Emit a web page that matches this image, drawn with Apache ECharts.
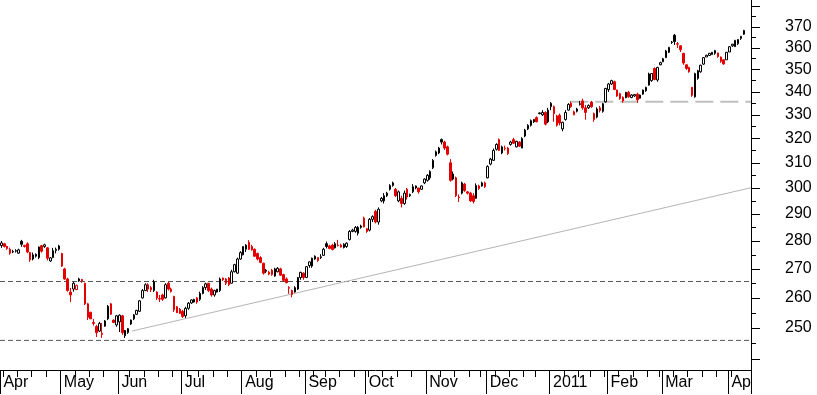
<!DOCTYPE html>
<html><head><meta charset="utf-8">
<script src="https://cdn.jsdelivr.net/npm/echarts@6/dist/echarts.min.js"></script>
<style>html,body{margin:0;padding:0;background:#fff;}#c{width:817px;height:395px;}</style>
</head><body><div id="c"></div>
<script>
// ---- categories (trading days) ----
const startDate = '2010-04-01';
const endDate = '2011-04-08';
const holidays = ['2010-04-02','2010-05-31','2010-07-05','2010-09-06','2010-11-25','2010-12-24','2011-01-17','2011-02-21'];
const padSlots = 2;
const monthLabels = ['Apr','May','Jun','Jul','Aug','Sep','Oct','Nov','Dec','2011','Feb','Mar','Ap'];

// ---- price data ----
const opens = [
278.3,279.0,278.0,277.0,276.0,276.3,275.6,279.9,278.4,279.0,
275.8,273.5,274.5,274.0,278.3,278.0,277.5,272.8,274.0,276.5,
277.0,275.5,270.0,266.5,262.0,263.0,262.8,265.8,266.3,265.0,
258.0,255.2,251.8,250.5,249.0,247.9,250.6,253.0,258.0,252.6,
251.0,252.0,254.0,247.5,248.5,251.3,253.0,254.5,255.5,260.0,
262.5,264.5,263.5,262.5,262.0,259.6,261.0,260.0,265.0,263.0,
260.5,257.0,256.2,255.5,254.0,256.5,258.3,258.6,260.0,259.5,
261.5,263.5,265.0,263.0,261.0,262.0,262.5,266.8,266.5,266.8,
265.0,269.0,268.5,273.5,275.0,277.0,279.5,278.0,277.0,275.5,
274.0,272.0,269.5,268.8,269.5,267.5,269.0,270.0,268.0,266.5,
263.5,262.5,262.0,263.0,267.0,268.5,267.0,271.2,271.0,273.5,
274.0,274.0,274.8,279.0,278.2,278.5,277.5,278.5,278.5,277.6,
278.0,280.5,283.5,283.5,282.8,285.0,288.5,284.5,284.0,288.0,
291.0,287.0,295.0,295.0,297.0,299.5,301.0,299.5,295.0,296.0,
294.0,299.5,297.0,298.5,300.0,300.0,299.5,302.0,303.0,304.0,
308.0,313.0,314.0,319.5,318.5,316.5,310.0,303.5,304.0,296.5,
298.0,301.5,298.5,298.0,297.0,296.0,300.8,300.8,302.0,304.0,
309.5,311.0,315.5,319.5,314.0,316.0,316.0,317.5,319.5,316.5,
318.5,316.0,321.0,324.0,325.5,327.0,328.8,330.5,330.0,331.0,
327.0,333.5,333.5,325.5,329.8,324.0,328.0,332.0,335.0,330.0,
331.5,334.5,336.0,333.0,333.0,335.5,330.5,329.0,333.0,331.5,
335.6,341.0,343.5,344.5,340.8,339.2,337.6,337.4,339.8,337.5,
338.2,339.0,337.2,339.0,340.5,343.0,345.0,350.5,345.3,352.2,
353.6,355.5,358.0,362.6,366.0,362.0,361.0,357.5,352.2,351.0,
342.0,337.8,346.0,349.0,352.5,355.8,356.5,356.9,357.5,357.7,
355.8,354.5,354.5,358.1,361.0,360.6,362.0,364.5,366.5];
const closes = [
279.3,278.0,277.3,275.6,276.2,276.5,276.8,278.8,278.0,276.0,
273.2,275.0,275.2,277.8,276.3,278.6,273.8,273.9,276.5,277.0,
278.2,271.0,266.5,262.5,261.0,265.0,264.3,266.5,265.8,258.0,
253.5,253.0,251.5,248.5,251.5,248.3,252.3,257.2,254.5,251.8,
254.0,254.2,248.5,249.2,249.8,252.6,254.3,255.8,259.0,262.5,
264.5,263.0,262.8,265.5,260.0,259.8,259.5,264.5,263.0,262.2,
256.0,255.0,254.8,253.8,256.5,258.2,259.3,259.5,258.6,261.5,
263.5,264.8,262.5,261.0,262.5,263.0,266.5,266.2,265.0,264.5,
269.0,271.5,273.5,275.8,278.0,278.5,277.0,276.8,274.5,273.5,
272.3,268.5,269.2,268.2,268.0,270.0,270.2,267.8,266.0,265.2,
263.3,261.2,263.5,267.0,268.8,267.0,270.8,272.5,273.8,274.5,
273.0,274.3,277.0,278.0,277.3,276.9,279.0,278.3,277.8,278.8,
279.2,283.5,284.0,285.0,285.0,285.5,285.2,283.5,288.0,289.0,
287.0,291.8,296.0,297.0,298.0,301.0,302.0,297.0,298.5,294.0,
298.0,296.5,297.5,300.5,300.8,298.5,300.8,303.5,305.0,306.5,
311.0,314.5,316.0,318.5,316.0,313.5,303.0,305.5,297.0,296.3,
302.0,299.0,298.0,295.0,294.8,301.0,299.8,302.0,300.5,308.5,
311.5,315.0,317.5,315.0,316.5,315.8,313.8,318.5,318.0,318.8,
316.8,320.0,323.5,325.5,327.5,328.0,327.0,330.8,331.0,326.0,
332.0,335.0,330.5,329.5,326.5,326.8,331.0,334.5,333.5,331.3,
332.5,334.8,333.0,331.0,334.0,333.5,328.0,332.5,331.8,334.8,
341.5,343.5,345.0,341.0,338.2,337.0,336.0,339.8,337.8,338.6,
338.8,336.5,338.6,340.8,342.0,348.0,348.2,345.5,351.0,353.2,
355.0,358.6,360.3,362.8,363.0,361.8,359.2,353.0,350.5,349.0,
338.5,348.2,349.5,352.0,355.5,356.6,357.5,358.0,358.8,356.0,
353.8,352.6,358.0,360.6,361.8,363.6,364.0,365.5,368.3];
const lows = [
277.5,277.6,276.8,275.0,275.6,275.8,275.3,277.9,277.6,275.6,
272.5,273.0,274.0,273.5,275.8,277.5,273.0,272.5,273.8,275.5,
276.5,270.7,266.2,262.1,258.6,262.1,262.7,265.5,265.2,257.6,
252.6,253.0,250.8,247.1,248.7,246.8,250.4,252.6,254.3,251.6,
250.4,248.7,247.8,246.8,248.1,251.0,252.6,254.3,255.3,259.8,
262.3,262.0,262.0,262.0,259.3,258.6,259.0,259.8,262.5,261.8,
255.3,255.0,254.6,253.3,253.3,256.0,258.0,258.4,258.0,259.0,
261.2,262.7,262.0,260.4,260.4,261.8,262.0,265.8,264.4,264.0,
265.0,268.8,268.3,273.2,274.8,276.0,276.8,276.5,274.2,273.0,
272.0,268.0,268.5,267.8,267.6,267.3,268.8,267.5,265.5,265.0,
261.4,260.2,261.8,262.7,266.2,266.2,266.8,270.4,270.4,273.2,
272.5,273.5,274.6,277.3,277.0,276.6,277.3,278.0,277.6,277.3,
277.5,280.2,283.2,283.0,282.0,284.5,285.0,283.0,283.5,287.0,
286.5,286.0,294.5,294.0,296.5,299.0,300.5,296.5,294.5,292.5,
293.5,295.5,296.5,298.0,299.5,297.8,299.2,301.5,302.5,303.2,
307.5,312.5,313.5,317.5,315.2,313.0,302.5,303.0,296.5,294.6,
297.5,298.5,297.5,294.6,294.0,295.8,299.3,300.5,300.0,303.8,
309.0,310.8,315.0,314.8,313.5,315.0,313.2,317.0,317.8,316.3,
316.5,316.0,320.5,323.5,325.0,326.5,326.8,330.2,329.5,325.5,
326.5,332.0,327.0,325.0,325.5,323.0,327.5,331.8,333.0,329.8,
331.0,334.0,332.2,327.9,332.5,333.0,327.0,328.5,331.0,330.9,
335.2,340.0,343.1,340.9,337.8,336.5,335.2,337.2,337.4,337.2,
337.8,335.2,337.0,338.7,340.0,342.8,344.5,345.2,344.5,352.0,
353.4,355.3,357.6,361.9,361.4,360.0,358.1,352.2,349.9,348.6,
337.8,337.4,345.4,348.6,352.2,355.8,356.3,356.8,356.8,355.4,
353.1,352.2,354.5,358.1,360.5,360.5,361.4,363.8,366.2];
const highs = [
280.0,279.3,278.3,277.6,276.8,277.0,277.2,280.4,278.6,279.5,
276.0,275.8,275.5,278.0,278.6,279.0,277.8,274.2,277.5,277.6,
278.6,275.7,270.4,266.9,263.4,265.5,264.5,266.9,266.5,265.2,
258.3,255.3,253.0,251.0,252.0,251.6,252.6,257.6,258.3,252.8,
254.3,254.5,254.3,249.4,250.0,252.8,254.6,256.0,259.3,263.0,
265.0,265.0,264.0,266.2,262.2,261.0,261.4,265.0,265.5,263.5,
260.7,257.3,256.6,256.0,257.0,258.6,259.5,259.7,260.3,262.1,
264.0,265.2,265.0,263.5,262.8,263.0,267.0,267.0,266.8,267.2,
269.7,271.8,274.0,276.3,278.0,278.8,280.3,278.6,277.3,275.8,
274.5,272.2,270.0,269.3,270.0,270.4,270.6,270.4,268.3,267.0,
264.0,262.8,264.0,267.2,269.0,268.8,271.0,272.6,274.0,274.8,
274.0,275.2,277.5,279.8,278.6,279.0,279.6,280.4,279.0,279.2,
279.5,284.0,284.5,285.5,285.5,286.0,289.0,284.8,288.5,289.5,
291.6,292.5,296.5,298.0,298.5,301.5,302.5,300.0,299.0,297.0,
299.0,300.0,297.8,301.5,301.0,300.0,301.0,303.8,305.5,307.0,
311.5,315.0,316.5,320.0,319.0,317.0,311.5,306.5,304.5,297.5,
302.5,302.0,298.8,298.5,298.0,301.8,301.3,302.5,302.5,309.0,
312.0,315.8,318.0,320.0,317.0,317.0,316.5,319.0,320.3,319.0,
318.8,320.5,324.0,326.0,328.0,328.2,329.3,331.0,332.0,331.5,
333.0,335.5,334.0,330.0,330.5,327.0,332.0,335.0,335.8,331.8,
333.0,336.0,337.0,334.3,334.5,336.0,331.0,333.2,333.8,335.2,
341.8,344.0,345.4,345.0,341.0,339.6,338.0,340.0,340.4,339.0,
339.0,339.6,338.8,341.0,342.3,348.6,348.4,351.0,351.3,353.6,
355.4,359.1,360.5,363.3,366.6,362.8,361.4,357.7,352.4,351.3,
342.2,348.6,349.9,352.2,355.8,356.8,357.7,358.1,359.1,357.7,
356.0,354.6,358.1,360.9,361.9,363.8,364.2,365.7,368.6];

// ---- reference lines (values) ----
const supportLevels = [265.6, 246.0];
const resistanceLevel = 335.6;
const resistanceStartIndex = 197.7;
const trendFrom = [45.3, 249.0];
const trendTo = [260.5, 300.1];

// ---- axis ticks ----
const yMinValue = 236.7, yMaxValue = 383.2;
const yMajorTicks = [240,250,260,270,280,290,300,310,320,330,340,350,360,370,380];
const yMinorTicks = [245,255,265,275,285,295,305,315,325,335,345,355,365,375];
const yLabels = [250,260,270,280,290,300,310,320,330,340,350,360,370];

// ---- build categories ----
function parseD(s){const p=s.split('-').map(Number);return Date.UTC(p[0],p[1]-1,p[2]);}
const dates = [];
for (let t = parseD(startDate); t <= parseD(endDate); t += 86400000) {
  const d = new Date(t), wd = d.getUTCDay(), s = d.toISOString().slice(0,10);
  if (wd === 0 || wd === 6 || holidays.indexOf(s) >= 0) continue;
  dates.push(s);
}
const cats = dates.slice();
for (let k = 0; k < padSlots; k++) cats.push('pad' + k);
const monthStart = [], weekStart = [], monthLabelAt = {};
let mk = 0;
cats.forEach((c, i) => {
  if (i >= dates.length) { monthStart.push(false); weekStart.push(false); return; }
  const ms = i === 0 || dates[i].slice(0,7) !== dates[i-1].slice(0,7);
  monthStart.push(ms);
  if (ms) monthLabelAt[i] = monthLabels[mk++];
  const ws = i === 0 || (parseD(dates[i]) - parseD(dates[i-1])) / 86400000 >= 7 ||
    new Date(parseD(dates[i])).getUTCDay() < new Date(parseD(dates[i-1])).getUTCDay();
  weekStart.push(ws);
});

const L = Math.log;
const RED = '#e40000', BLK = '#000000';
const candleData = closes.map((c, i) => {
  const o = opens[i];
  const col = (i === 0 || c >= closes[i-1]) ? BLK : RED;
  const fill = c > o ? '#ffffff' : col;
  return { value: [L(o), L(c), L(lows[i]), L(highs[i])],
    itemStyle: { color: fill, color0: fill, borderColor: col, borderColor0: col, borderColorDoji: col } };
});

const font = { color:'#000', fontFamily:'Liberation Sans', fontSize:16 };
const chart = echarts.init(document.getElementById('c'), null, { renderer:'canvas' });
chart.setOption({
  animation: false,
  grid: { left: -2, top: 0, width: 753, height: 370, containLabel: false },
  xAxis: [
    { type:'category', data: cats, boundaryGap: true, position:'bottom',
      axisLine:{ show:true, onZero:false, lineStyle:{ color:'#000', width:1 } },
      axisTick:{ show:true, interval:(i)=>weekStart[i], length:7, lineStyle:{ color:'#000' } },
      axisLabel:{ show:false }, splitLine:{ show:false } },
    { type:'category', data: cats, boundaryGap: true, position:'bottom',
      axisLine:{ show:false, onZero:false },
      axisTick:{ show:true, interval:(i)=>monthStart[i], length:24, lineStyle:{ color:'#000' } },
      axisLabel:Object.assign({ show:true, interval:(i)=>monthStart[i], formatter:(v,i)=>monthLabelAt[i]||'',
        align:'left', margin:5, padding:[0,0,0,2] }, font),
      splitLine:{ show:false } },
    { type:'value', min:-0.5, max:cats.length-0.5, show:false }
  ],
  yAxis: [
    { type:'value', position:'right', min:L(yMinValue), max:L(yMaxValue),
      axisLine:{ show:true, onZero:false, lineStyle:{ color:'#000' } },
      axisTick:{ show:true, customValues: yMajorTicks.map(L), length:9, lineStyle:{ color:'#000' } },
      axisLabel:Object.assign({ show:true, customValues: yLabels.map(L),
        formatter:(v)=>String(Math.round(Math.exp(v))), margin:34 }, font),
      splitLine:{ show:false } },
    { type:'value', position:'right', min:L(yMinValue), max:L(yMaxValue),
      axisLine:{ show:false, onZero:false },
      axisTick:{ show:true, customValues: yMinorTicks.map(L), length:5, lineStyle:{ color:'#000' } },
      axisLabel:{ show:false }, splitLine:{ show:false } }
  ],
  series: [
    ...supportLevels.map(v => ({ type:'line', xAxisIndex:2, yAxisIndex:0, silent:true, symbol:'none', z:1,
      data:[[-0.5, L(v)], [cats.length-0.5, L(v)]], lineStyle:{ color:'#555', width:1, type:[5,3] } })),
    { type:'line', xAxisIndex:2, yAxisIndex:0, silent:true, symbol:'none', z:1,
      data:[[resistanceStartIndex, L(resistanceLevel)], [cats.length-0.5, L(resistanceLevel)]],
      lineStyle:{ color:'#c0c0c0', width:2, type:[18,7] } },
    { type:'line', xAxisIndex:2, yAxisIndex:0, silent:true, symbol:'none', z:1,
      data:[[trendFrom[0], L(trendFrom[1])], [trendTo[0], L(trendTo[1])]],
      lineStyle:{ color:'#b4b4b4', width:1 } },
    { type:'candlestick', xAxisIndex:0, yAxisIndex:0, z:3, barWidth:2, data: candleData,
      itemStyle:{ borderWidth:1 } }
  ]
});
</script></body></html>
